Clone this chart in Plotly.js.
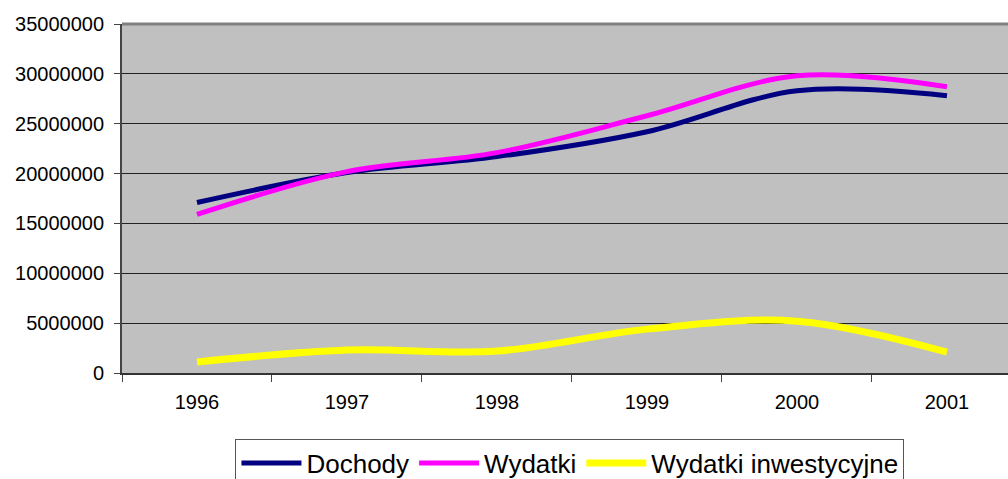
<!DOCTYPE html>
<html>
<head>
<meta charset="utf-8">
<script src="https://cdn.plot.ly/plotly-3.0.1.min.js"></script>
<style>
html,body{margin:0;padding:0;background:#fff;overflow:hidden;}
#chart{width:1008px;height:500px;}
</style>
</head>
<body>
<div id="chart"></div>
<script>
const years = ['1996','1997','1998','1999','2000','2001'];
const dochody = [17100000, 20100000, 21700000, 24200000, 28300000, 27800000];
const wydatki = [15900000, 20200000, 22100000, 25800000, 29800000, 28700000];
const inwest = [1100000, 2300000, 2200000, 4400000, 5200000, 2100000];
const yTicks = [0, 5000000, 10000000, 15000000, 20000000, 25000000, 30000000, 35000000];

const font = 'Arial, "Liberation Sans", sans-serif';
const mk = (name, y, color, w) => ({
  type: 'scatter', mode: 'lines', name: name, x: years, y: y,
  line: {color: color, width: w, shape: 'spline', smoothing: 1}
});
const data = [
  mk('Dochody', dochody, '#000080', 5),
  mk('Wydatki', wydatki, '#FF00FF', 5),
  mk('Wydatki inwestycyjne', inwest, '#FFFF00', 7)
];
const layout = {
  width: 1008, height: 500,
  margin: {l: 122, r: 0, t: 24, b: 127, pad: 0},
  paper_bgcolor: '#ffffff', plot_bgcolor: '#C0C0C0',
  font: {family: font, size: 20, color: '#000'},
  showlegend: true,
  legend: {
    orientation: 'h', x: 0.5056, xanchor: 'center', y: -0.188, yanchor: 'top',
    font: {family: font, size: 26, color: '#000'},
    bordercolor: '#555', borderwidth: 1, bgcolor: '#fff',
    itemwidth: 60, tracegroupgap: 0
  },
  xaxis: {
    type: 'category', range: [-0.5, 5.407], tickson: 'boundaries',
    ticks: 'outside', ticklen: 7, tickcolor: '#444', tickwidth: 1,
    showgrid: false, showline: true, linecolor: '#333', linewidth: 2,
    tickfont: {family: font, size: 20}, zeroline: false, fixedrange: true,
    ticklabelstandoff: 10
  },
  yaxis: {
    range: [0, 35000000], tickvals: yTicks, ticktext: yTicks.map(String),
    ticks: 'outside', ticklen: 6, tickcolor: '#444', tickwidth: 1,
    showgrid: true, gridcolor: '#222', gridwidth: 1,
    showline: true, linecolor: '#444', linewidth: 2, zeroline: false,
    tickfont: {family: font, size: 20}, ticklabelstandoff: 6, fixedrange: true
  },
  shapes: [
    {type: 'line', xref: 'paper', yref: 'paper', x0: 0, x1: 1, y0: 1, y1: 1,
     line: {color: '#808080', width: 3}}
  ]
};
Plotly.newPlot('chart', data, layout, {displayModeBar: false, staticPlot: true});
</script>
</body>
</html>
